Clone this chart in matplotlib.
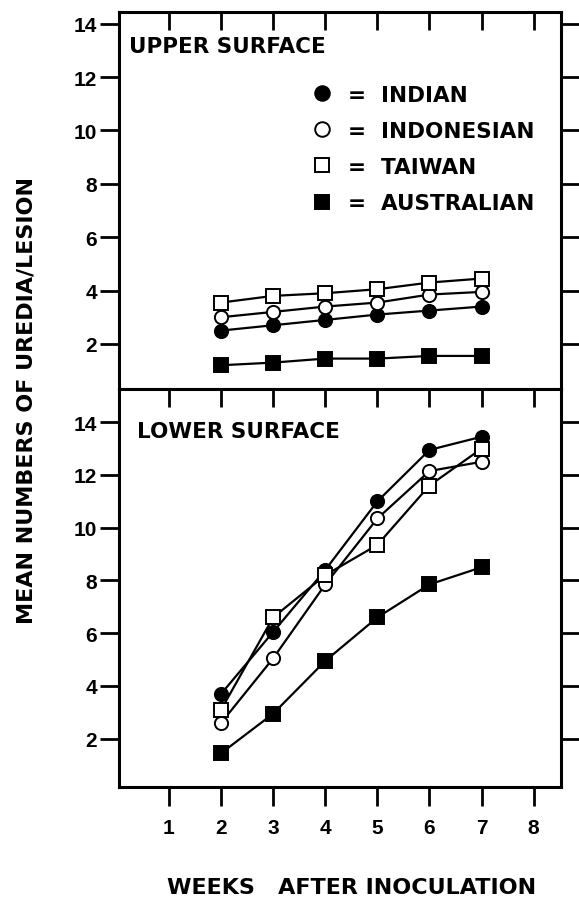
import matplotlib
matplotlib.use("Agg")
import matplotlib.pyplot as plt
from matplotlib.lines import Line2D

plt.rcParams["font.family"] = ["Liberation Sans", "DejaVu Sans"]
plt.rcParams["font.weight"] = "bold"
WORDS = "DejaVu Sans"

weeks = [2, 3, 4, 5, 6, 7]

# upper surface
up_indian = [2.5, 2.7, 2.9, 3.1, 3.25, 3.4]
up_indonesian = [3.0, 3.2, 3.4, 3.55, 3.85, 3.95]
up_taiwan = [3.55, 3.8, 3.9, 4.05, 4.3, 4.45]
up_australian = [1.2, 1.3, 1.45, 1.45, 1.55, 1.55]

# lower surface
lo_indian = [3.7, 6.05, 8.4, 11.0, 12.95, 13.45]
lo_indonesian = [2.6, 5.05, 7.85, 10.35, 12.15, 12.5]
lo_taiwan = [3.1, 6.6, 8.2, 9.35, 11.6, 13.0]
lo_australian = [1.45, 2.95, 4.95, 6.6, 7.85, 8.5]

strains = ["INDIAN", "INDONESIAN", "TAIWAN", "AUSTRALIAN"]
styles = [
    dict(marker="o", mfc="black"),
    dict(marker="o", mfc="white"),
    dict(marker="s", mfc="white"),
    dict(marker="s", mfc="black"),
]
yticks = [2, 4, 6, 8, 10, 12, 14]
xticks = [1, 2, 3, 4, 5, 6, 7, 8]

fig = plt.figure(figsize=(5.79, 9.03), dpi=100)
ax_up = fig.add_axes([0.2055, 0.5681, 0.763, 0.4175])
ax_lo = fig.add_axes([0.2055, 0.1274, 0.763, 0.4407])

for ax, series in [(ax_up, [up_indian, up_indonesian, up_taiwan, up_australian]),
                   (ax_lo, [lo_indian, lo_indonesian, lo_taiwan, lo_australian])]:
    for vals, st in zip(series, styles):
        ax.plot(weeks, vals, color="black", lw=1.6, mec="black", mew=1.4, ms=9.5, **st)
    for s in ax.spines.values():
        s.set_linewidth(2.2)
    ax.set_xlim(0.04, 8.52)
    ax.set_yticks(yticks)
    ax.set_xticks(xticks)
    ax.tick_params(axis="y", which="both", left=True, right=True, direction="out",
                   length=14, width=2, labelsize=15, pad=2)
    ax.tick_params(axis="x", width=2, length=13)

ax_up.set_ylim(0.31, 14.44)
ax_lo.set_ylim(0.17, 15.26)

ax_up.tick_params(axis="x", top=True, bottom=False, direction="in", labelbottom=False)
ax_lo.tick_params(axis="x", top=False, bottom=True, direction="out", labelsize=15, pad=8, length=14)
# inward ticks along the top of the lower panel
sec = ax_lo.secondary_xaxis("top")
sec.set_xticks(xticks)
sec.tick_params(direction="in", length=13, width=2, labeltop=False)
sec.spines["top"].set_visible(False)

ax_up.text(0.023, 0.91, "UPPER SURFACE", transform=ax_up.transAxes, fontsize=15.5,
           family=WORDS, va="center", ha="left")
ax_lo.text(0.04, 0.894, "LOWER SURFACE", transform=ax_lo.transAxes, fontsize=15.5,
           family=WORDS, va="center", ha="left")

handles = [Line2D([], [], ls="none", color="black", mec="black", mew=1.4, ms=10.5, **st) for st in styles]
ax_up.legend(handles, ["=  " + s for s in strains], loc="upper left",
             bbox_to_anchor=(0.416, 0.83), frameon=False,
             prop=dict(family=WORDS, weight="bold", size=15.5),
             handlelength=1.0, handletextpad=0.7, labelspacing=0.75, borderaxespad=0)

fig.text(0.046, 0.557, "MEAN NUMBERS OF UREDIA/LESION", rotation=90, fontsize=16,
         family=WORDS, ha="center", va="center")
fig.text(0.607, 0.006, "WEEKS   AFTER INOCULATION", fontsize=16, family=WORDS,
         ha="center", va="bottom")

fig.savefig("out.png", dpi=100)
